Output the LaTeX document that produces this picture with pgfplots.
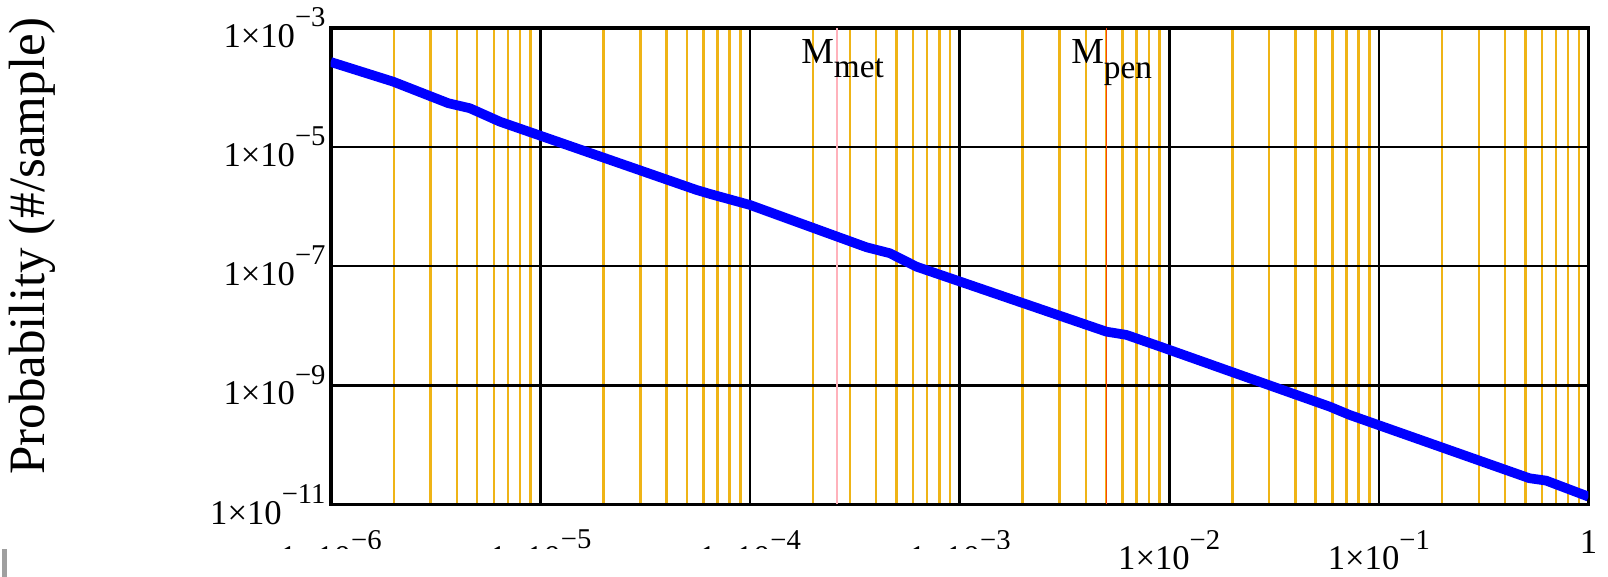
\documentclass[border=0pt]{standalone}
\usepackage{fontspec}
\setmainfont{Liberation Serif}
\usepackage{pgfplots}
\pgfplotsset{compat=1.18}
\definecolor{gridorange}{HTML}{EFB416}
\definecolor{mpink}{RGB}{255,178,188}
\definecolor{mred}{RGB}{250,70,10}
\newcommand{\tl}[1]{1×10\raisebox{0.6em}{\fontsize{8.6}{9}\selectfont −#1}}

\begin{document}
\begin{tikzpicture}
\begin{axis}[at={(0,0)}, anchor=south west,
  scale only axis, width=377.3pt, height=143pt,
  xmode=log, ymode=log,
  xmin=1e-6, xmax=1, ymin=1e-11, ymax=1e-3,
  xtick={1e-6,1e-5,1e-4,1e-3,1e-2,1e-1,1},
  xticklabels={\tl{6},\tl{5},\tl{4},\tl{3},\tl{2},\tl{1},1},
  ytick={1e-11,1e-9,1e-7,1e-5,1e-3},
  yticklabels={\tl{11},\tl{9},\tl{7},\tl{5},\tl{3}},
  minor xtick={2e-6,3e-6,4e-6,5e-6,6e-6,7e-6,8e-6,9e-6,
    2e-5,3e-5,4e-5,5e-5,6e-5,7e-5,8e-5,9e-5,
    2e-4,3e-4,4e-4,5e-4,6e-4,7e-4,8e-4,9e-4,
    2e-3,3e-3,4e-3,5e-3,6e-3,7e-3,8e-3,9e-3,
    2e-2,3e-2,4e-2,5e-2,6e-2,7e-2,8e-2,9e-2,
    0.2,0.3,0.4,0.5,0.6,0.7,0.8,0.9},
  major tick length=0pt, minor tick length=0pt,
  xmajorgrids, ymajorgrids, xminorgrids,
  major grid style={black, line width=0.8pt},
  minor grid style={gridorange, line width=0.75pt},
  axis line style={black, line width=1.1pt},
  tick label style={font=\fontsize{10.4}{12}\selectfont},
  xticklabel style={yshift=-4.2pt},
  yticklabel style={xshift=2pt},
  ylabel={Probability (\#/sample)},
  ylabel style={font=\fontsize{15.3}{18}\selectfont,
    at={(axis description cs:-0.2375,0.542)}, anchor=center},
]
\addplot[mpink, line width=0.35pt] coordinates {(2.6e-4,1e-11) (2.6e-4,1e-3)};
\addplot[mred, line width=0.35pt] coordinates {(5e-3,1e-11) (5e-3,1e-3)};
\addplot[blue, line width=2.9pt, line join=round] coordinates {
  (1e-6,2.655e-4) (1.986e-6,1.242e-4) (3.639e-6,5.40e-5) (4.613e-6,4.446e-5)
  (6.412e-6,2.649e-5) (5.559e-5,1.892e-6) (6.442e-5,1.622e-6) (1e-4,1.059e-6)
  (3.597e-4,2.065e-7) (4.645e-4,1.641e-7) (6.223e-4,9.77e-8) (5.012e-3,7.925e-9)
  (6.252e-3,6.982e-9) (9.016e-3,4.467e-9) (5.821e-2,4.375e-10) (7.244e-2,3.177e-10)
  (0.5224,2.748e-11) (0.6281,2.506e-11) (1,1.349e-11)};
\node[anchor=base west, inner sep=0pt, font=\fontsize{11}{12}\selectfont]
  at (rel axis cs:0.3737,0.9253) {M\raisebox{-4.3pt}{\fontsize{10}{11}\selectfont met}};
\node[anchor=base west, inner sep=0pt, font=\fontsize{11}{12}\selectfont]
  at (rel axis cs:0.5883,0.9253) {M\raisebox{-4.5pt}{\fontsize{10}{11}\selectfont pen}};
\end{axis}
\pgfresetboundingbox
\fill[white] (-99.2pt,-21.75pt) rectangle (221.8pt,-13.35pt);
\fill[gray!75] (-98.6pt,-21.75pt) rectangle (-97.1pt,-13.35pt);
\useasboundingbox (-99.2pt,-21.75pt) rectangle (383.15pt,151.3pt);
\end{tikzpicture}
\end{document}
